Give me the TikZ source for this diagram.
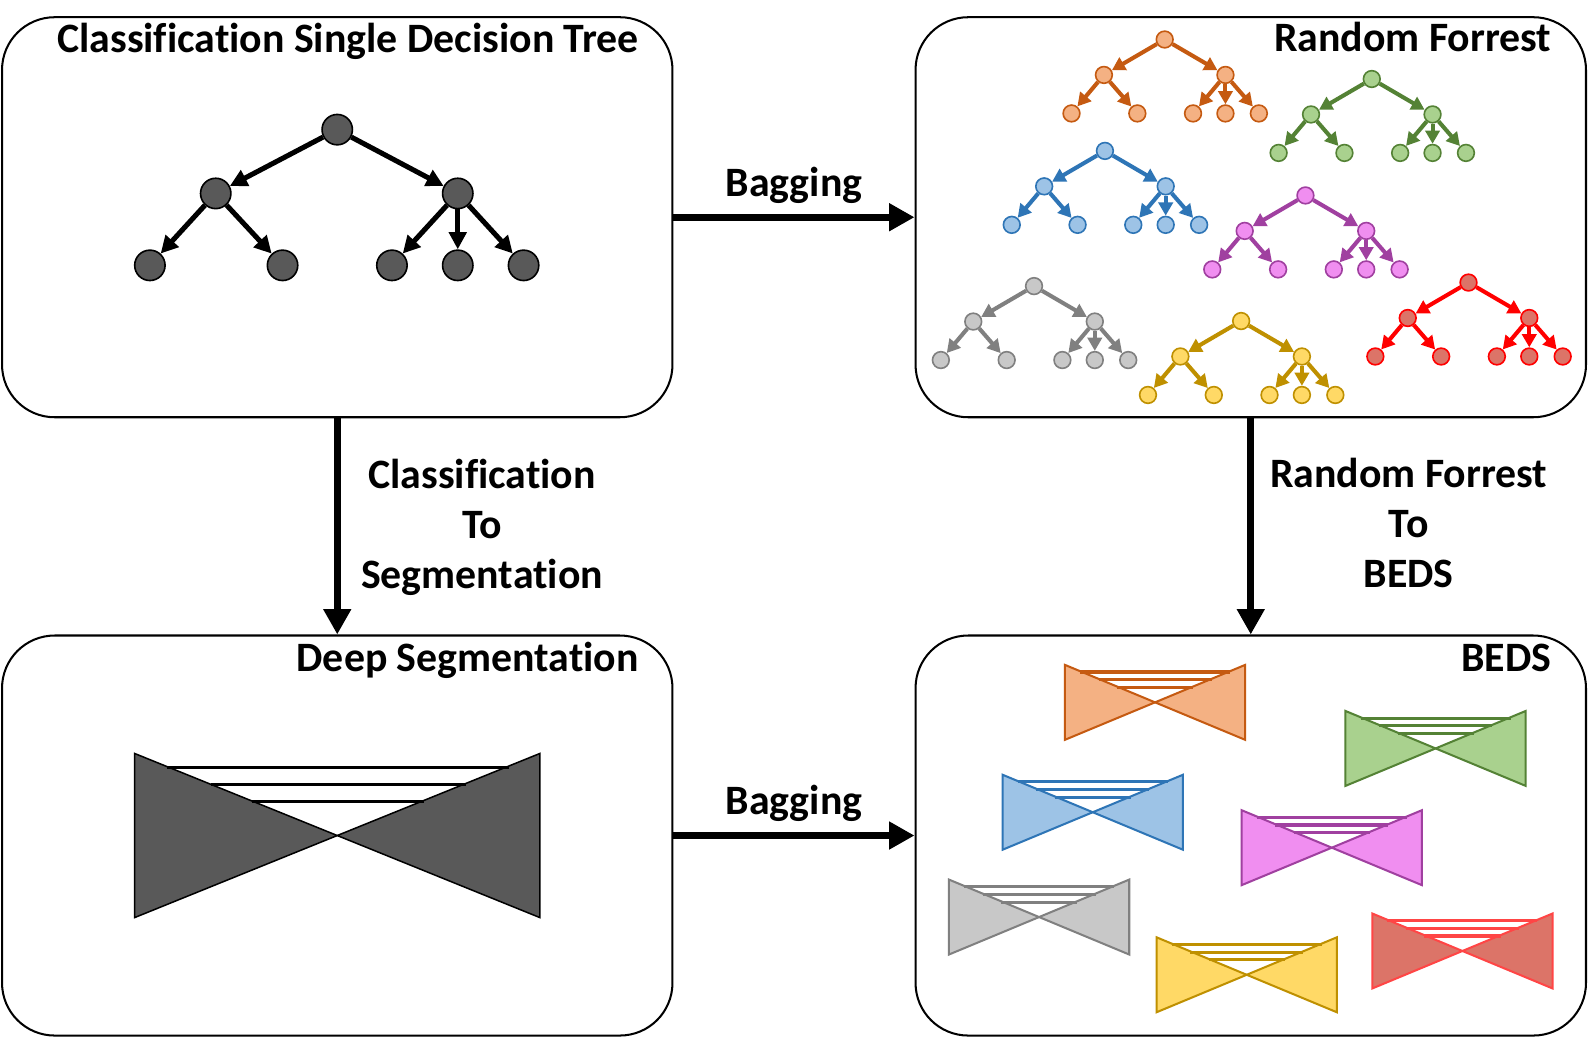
\documentclass[tikz,border=0pt]{standalone}
\usepackage{fontspec}
\setmainfont{Carlito}[Ligatures=NoCommon]
\usetikzlibrary{arrows.meta}
\definecolor{dk}{HTML}{595959}
\definecolor{orF}{HTML}{F4B183}\definecolor{orD}{HTML}{C55A11}
\definecolor{grF}{HTML}{A9D18E}\definecolor{grD}{HTML}{548235}
\definecolor{blF}{HTML}{9DC3E6}\definecolor{blD}{HTML}{2E75B6}
\definecolor{puF}{HTML}{F08EF0}\definecolor{puD}{HTML}{A040A0}
\definecolor{gyF}{HTML}{C8C8C8}\definecolor{gyD}{HTML}{808080}
\definecolor{yeF}{HTML}{FFD966}\definecolor{yeD}{HTML}{BF9000}
\definecolor{rdF}{HTML}{DC7468}\definecolor{rdD}{HTML}{FF0000}\definecolor{rdB}{HTML}{FF4545}
\newcommand\mktree[6]{%
  \begin{scope}[shift={(#2,#3)}]
    \node[sn,fill=#4,draw=#5] (#1r) at (0,0) {};
    \node[sn,fill=#4,draw=#5] (#1a) at (-60,35) {};
    \node[sn,fill=#4,draw=#5] (#1b) at (60,35) {};
    \node[sn,fill=#4,draw=#5] (#1l1) at (-92,73) {};
    \node[sn,fill=#4,draw=#5] (#1l2) at (-27,73) {};
    \node[sn,fill=#4,draw=#5] (#1l3) at (28,73) {};
    \node[sn,fill=#4,draw=#5] (#1l4) at (60,73) {};
    \node[sn,fill=#4,draw=#5] (#1l5) at (93,73) {};
    \draw[se,draw=#6,fill=#6] (#1r) -- (#1a);
    \draw[se,draw=#6,fill=#6] (#1r) -- (#1b);
    \draw[se,draw=#6,fill=#6] (#1a) -- (#1l1);
    \draw[se,draw=#6,fill=#6] (#1a) -- (#1l2);
    \draw[se,draw=#6,fill=#6] (#1b) -- (#1l3);
    \draw[se,draw=#6,fill=#6] (#1b) -- (#1l4);
    \draw[se,draw=#6,fill=#6] (#1b) -- (#1l5);
  \end{scope}}
% x0, y0, w, h, fill, stroke, outline width, bar width
\newcommand\mkbow[8]{%
  \pgfmathsetmacro\bxa{#1}\pgfmathsetmacro\bxb{#1+#3}%
  \pgfmathsetmacro\bxc{#1+#3/2}\pgfmathsetmacro\byc{#2+#4/2}%
  \pgfmathsetmacro\bya{#2}\pgfmathsetmacro\byb{#2+#4}%
  \filldraw[fill=#5,draw=#6,line width=#7] (\bxa,\bya) -- (\bxa,\byb) -- (\bxc,\byc) -- cycle;
  \filldraw[fill=#5,draw=#6,line width=#7] (\bxb,\bya) -- (\bxb,\byb) -- (\bxc,\byc) -- cycle;
  \foreach \f in {0.19,0.395,0.6}{%
    \pgfmathsetmacro\ly{#2+\f*#4/2}%
    \pgfmathsetmacro\lxa{#1+\f*#3/2-2}%
    \pgfmathsetmacro\lxb{#1+#3-\f*#3/2+2}%
    \draw[draw=#6,line width=#8] (\lxa,\ly) -- (\lxb,\ly);}}
\begin{document}
\begin{tikzpicture}[x=1pt,y=-1pt,
  box/.style={draw=black,line width=2pt,rounded corners=52pt,minimum width=662pt,minimum height=395pt,inner sep=0pt},
  ttl/.style={font=\fontsize{41.3}{49.5}\selectfont\bfseries,inner sep=0pt},
  conn/.style={line width=7pt,-{Triangle[length=25pt,width=26pt]}},
  bn/.style={circle,minimum size=30pt,inner sep=0pt,fill=dk,draw=black,line width=1.6pt},
  be/.style={line width=5pt,-{Triangle[length=17pt,width=17pt]}},
  sn/.style={circle,minimum size=16.5pt,inner sep=0pt,line width=1.6pt},
  se/.style={line width=4pt,-{Triangle[length=13pt,width=14pt]}}]
\useasboundingbox (0,0) rectangle (1568,1024);
\fill[white] (0,0) rectangle (1568,1024);
% boxes
\node[box] (tl) at (333,214.5) {};
\node[box] (tr) at (1235,214.5) {};
\node[box] (bl) at (333,825) {};
\node[box] (br) at (1235,825) {};
% titles
\node[ttl,anchor=base east] (t1) at (631,52) {Classification Single Decision Tree};
\node[ttl,anchor=base east] (t2) at (1532,51) {Random Forrest};
\node[ttl,anchor=base east] (t3) at (631,663) {Deep Segmentation};
\node[ttl,anchor=base east] (t4) at (1532,663) {BEDS};
% connectors
\draw[conn] (tl.east) -- (tr.west);
\draw[conn] (bl.east) -- (br.west);
\draw[conn] (tl.south) -- (bl.north);
\draw[conn] (tr.south) -- (br.north);
\node[ttl,anchor=base] (lb1) at (784,194) {Bagging};
\node[ttl,anchor=base] (lb2) at (784,804.5) {Bagging};
\node[ttl,align=center,anchor=base] (lc) at (476,581) {Classification\\To\\Segmentation};
\node[ttl,align=center,anchor=base] (lr) at (1391,580) {Random Forrest\\To\\BEDS};
% main decision tree
\node[bn] (r) at (333,128) {};
\node[bn] (a) at (213,191) {};
\node[bn] (b) at (452,191) {};
\node[bn] (l1) at (148,262) {};
\node[bn] (l2) at (279,262) {};
\node[bn] (l3) at (387,262) {};
\node[bn] (l4) at (452,262) {};
\node[bn] (l5) at (517,262) {};
\draw[be] (r) -- (a);
\draw[be] (r) -- (b);
\draw[be] (a) -- (l1);
\draw[be] (a) -- (l2);
\draw[be] (b) -- (l3);
\draw[be] (b) -- (l4);
\draw[be] (b) -- (l5);
% random forest
\mktree{o}{1150}{39}{orF}{orD}{orD}
\mktree{g}{1354.5}{78}{grF}{grD}{grD}
\mktree{u}{1091}{149}{blF}{blD}{blD}
\mktree{p}{1289}{193}{puF}{puD}{puD}
\mktree{y}{1021}{282.5}{gyF}{gyD}{gyD}
\mktree{w}{1225.5}{317}{yeF}{yeD}{yeD}
\mktree{d}{1450}{279}{rdF}{rdD}{rdD}
% deep segmentation
\filldraw[fill=dk,draw=black,line width=1.5pt] (133,744) -- (133,906) -- (333,825) -- cycle;
\filldraw[fill=dk,draw=black,line width=1.5pt] (533,744) -- (533,906) -- (333,825) -- cycle;
\foreach \f in {0.165,0.38,0.585}{%
  \pgfmathsetmacro\ly{744+\f*81}%
  \pgfmathsetmacro\lxa{133+\f*200-1}%
  \pgfmathsetmacro\lxb{533-\f*200+3}%
  \draw[line width=3pt] (\lxa,\ly) -- (\lxb,\ly);}
% BEDS
\mkbow{1051.5}{656.5}{178}{74}{orF}{orD}{2pt}{3pt}
\mkbow{1328.5}{702}{178}{74}{grF}{grD}{2pt}{3pt}
\mkbow{990}{765}{178}{74}{blF}{blD}{2pt}{3pt}
\mkbow{1226}{800}{178}{74}{puF}{puD}{2pt}{3pt}
\mkbow{937}{868.5}{178}{74}{gyF}{gyD}{2pt}{3pt}
\mkbow{1142}{925.5}{178}{74}{yeF}{yeD}{2pt}{3pt}
\mkbow{1355}{902}{178}{74}{rdF}{rdB}{2pt}{3pt}
\end{tikzpicture}
\end{document}
